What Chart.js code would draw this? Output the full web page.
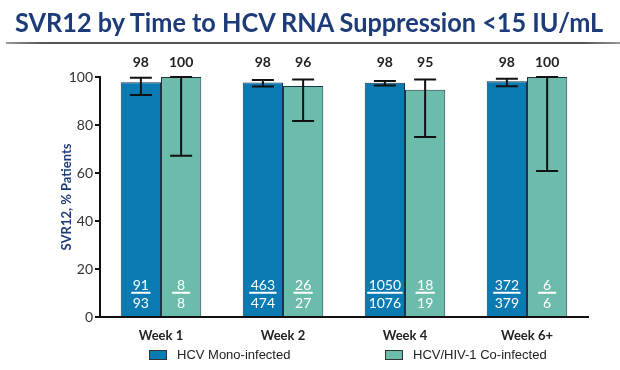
<!DOCTYPE html>
<html>
<head>
<meta charset="utf-8">
<script src="https://cdn.jsdelivr.net/npm/chart.js@4"></script>
<style>
  html, body { margin: 0; padding: 0; background: #fff; }
  #wrap { position: relative; width: 620px; height: 370px; overflow: hidden; }
  #title {
    position: absolute; left: 15px; top: 9px;
    font-family: Lato, "Open Sans", sans-serif; font-weight: bold;
    font-size: 26px; line-height: 26px; color: #1d3b78; white-space: nowrap;
    transform-origin: 0 0;
  }
  #rule {
    position: absolute; left: 6px; top: 42px; width: 614px; height: 2px;
    background: linear-gradient(to right, #999, #555 6%, #555 94%, #999);
  }
  canvas { position: absolute; left: 0; top: 0; }
  .leg {
    position: absolute; top: 347px;
    font-family: "Liberation Sans", Arial, sans-serif; font-size: 13px; color: #222;
    white-space: nowrap; line-height: 16px;
  }
  .leg span.box {
    display: inline-block; width: 16px; height: 8px; border: 1px solid #333;
    vertical-align: middle; margin-right: 10px; position: relative; top: -1px;
  }
</style>
</head>
<body>
<div id="wrap">
  <canvas id="chart" width="620" height="370"></canvas>
  <div id="title">SVR12 by Time to HCV RNA Suppression &lt;15 IU/mL</div>
  <div id="rule"></div>
  <div class="leg" style="left:149px"><span class="box" style="background:#0a7ab2"></span>HCV Mono-infected</div>
  <div class="leg" style="left:385px"><span class="box" style="background:#6cbcab"></span>HCV/HIV-1 Co-infected</div>
</div>
<script>
const categories = ['Week 1', 'Week 2', 'Week 4', 'Week 6+']
const yTicks = [0, 20, 40, 60, 80, 100]

const monoValues = [97.8, 97.7, 97.6, 98.2]
const monoLow = [92.5, 96.0, 96.5, 96.1]
const monoHigh = [99.7, 98.7, 98.3, 99.3]
const monoLabels = ['98', '98', '98', '98']
const monoNum = ['91', '463', '1050', '372']
const monoDen = ['93', '474', '1076', '379']

const coValues = [100, 96.3, 94.7, 100]
const coLow = [67.2, 81.7, 75.0, 60.8]
const coHigh = [100, 99.0, 99.0, 100]
const coLabels = ['100', '96', '95', '100']
const coNum = ['8', '26', '18', '6']
const coDen = ['8', '27', '19', '6']

const errors = [
  { low: monoLow, high: monoHigh, labels: monoLabels, num: monoNum, den: monoDen },
  { low: coLow, high: coHigh, labels: coLabels, num: coNum, den: coDen }
]

const calibri = 'Lato, "Open Sans", sans-serif'

// squeeze the title to the width it has in the slide (Calibri is narrow)
const title = document.getElementById('title')
title.style.transform = 'scaleX(' + (588 / title.offsetWidth) + ')'

// error bars, value labels on top, n/N inside the bars
const barExtras = {
  id: 'barExtras',
  afterDatasetsDraw(chart) {
    const ctx = chart.ctx
    const y = chart.scales.y
    chart.data.datasets.forEach((ds, di) => {
      const meta = chart.getDatasetMeta(di)
      const e = errors[di]
      meta.data.forEach((bar, i) => {
        const x = bar.x
        const yl = y.getPixelForValue(e.low[i])
        const yh = y.getPixelForValue(e.high[i])
        ctx.save()
        ctx.strokeStyle = '#111'
        ctx.lineWidth = 2
        ctx.beginPath()
        ctx.moveTo(x, yl); ctx.lineTo(x, yh)
        ctx.moveTo(x - 11, yl); ctx.lineTo(x + 11, yl)
        ctx.moveTo(x - 11, yh); ctx.lineTo(x + 11, yh)
        ctx.stroke()

        ctx.fillStyle = '#222'
        ctx.font = 'bold 14px ' + calibri
        ctx.textAlign = 'center'
        ctx.textBaseline = 'middle'
        ctx.fillText(e.labels[i], x, y.getPixelForValue(100) - 15)

        ctx.fillStyle = '#fff'
        ctx.font = '14px ' + calibri
        ctx.fillText(e.num[i], x, y.getPixelForValue(13.3))
        ctx.fillText(e.den[i], x, y.getPixelForValue(5.8))
        const w = Math.max(ctx.measureText(e.den[i]).width + 3, 18)
        ctx.fillRect(x - w / 2, y.getPixelForValue(10.1) - 1, w, 2)
        ctx.restore()
      })
    })
  }
}

new Chart(document.getElementById('chart'), {
  type: 'bar',
  data: {
    labels: categories,
    datasets: [
      {
        label: 'HCV Mono-infected',
        data: monoValues,
        backgroundColor: '#0a7ab2',
        borderColor: '#1c3445',
        borderWidth: 1
      },
      {
        label: 'HCV/HIV-1 Co-infected',
        data: coValues,
        backgroundColor: '#6cbcab',
        borderColor: '#1c3445',
        borderWidth: 1
      }
    ]
  },
  options: {
    responsive: false,
    animation: false,
    layout: { padding: { left: 59, right: 32, top: 77, bottom: 0 } },
    plugins: {
      legend: { display: false },
      tooltip: { enabled: false }
    },
    datasets: {
      bar: { barPercentage: 1, categoryPercentage: 0.66 }
    },
    scales: {
      x: {
        grid: { display: false },
        border: { color: '#111', width: 2 },
        ticks: {
          color: '#222',
          padding: 3,
          font: { family: calibri, size: 13, weight: 'bold' }
        },
        afterFit(scale) { scale.height = 53 }
      },
      y: {
        min: 0,
        max: 100,
        afterBuildTicks(scale) { scale.ticks = yTicks.map(v => ({ value: v })) },
        grid: { drawOnChartArea: false, drawTicks: true, tickLength: 5, color: '#111', lineWidth: 2 },
        border: { color: '#111', width: 2 },
        ticks: {
          color: '#333',
          padding: 2,
          font: { family: calibri, size: 14 }
        },
        title: {
          display: true,
          text: 'SVR12, % Patients',
          color: '#1d3b78',
          padding: 0,
          font: { family: calibri, size: 13, weight: 'bold' }
        },
        afterFit(scale) { scale.width = 41 }
      }
    }
  },
  plugins: [barExtras]
})
</script>
</body>
</html>
